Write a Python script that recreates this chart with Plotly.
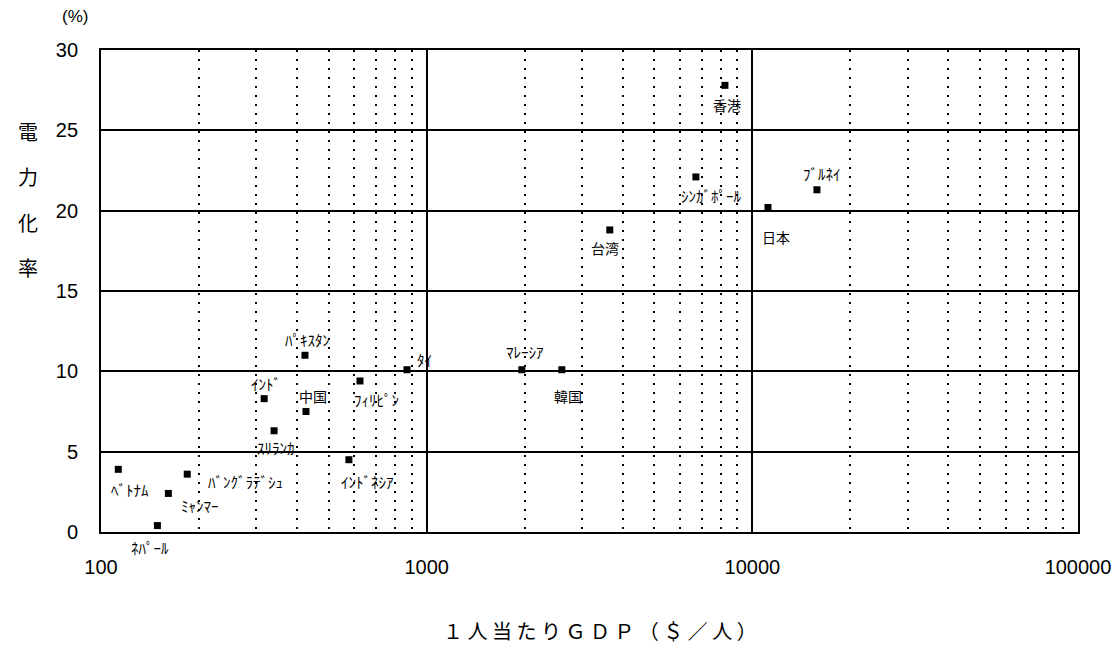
import math
import plotly.graph_objects as go

# Per-capita GDP ($/person) vs electrification rate (%)
countries = ["ベトナム", "ネパール", "ミャンマー", "バングラデシュ", "インド", "スリランカ",
             "中国", "パキスタン", "フィリピン", "タイ", "インドネシア", "マレーシア",
             "韓国", "台湾", "シンガポール", "香港", "日本", "ブルネイ"]
gdp_per_capita = [113, 149, 161, 184, 317, 340, 426, 423, 624, 870, 577, 1960,
                  2600, 3650, 6710, 8240, 11170, 15790]
electrification = [3.9, 0.4, 2.4, 3.6, 8.3, 6.3, 7.5, 11.0, 9.4, 10.1, 4.5, 10.1,
                   10.1, 18.8, 22.1, 27.8, 20.2, 21.3]

# Labels as printed (half-width katakana), with pixel offsets from each marker
label_text = ["ﾍﾞﾄﾅﾑ", "ﾈﾊﾟｰﾙ", "ﾐｬﾝﾏｰ", "ﾊﾞﾝｸﾞﾗﾃﾞｼｭ", "ｲﾝﾄﾞ", "ｽﾘﾗﾝｶ",
              "中国", "ﾊﾟｷｽﾀﾝ", "ﾌｨﾘﾋﾟﾝ", "ﾀｲ", "ｲﾝﾄﾞﾈｼｱ", "ﾏﾚｰｼｱ",
              "韓国", "台湾", "ｼﾝｶﾞﾎﾟｰﾙ", "香港", "日本", "ﾌﾞﾙﾈｲ"]
label_dx = [12, -7, 32, 58, 2, 2, 7, 3, 17, 18, 19, 3, 6, -5, 16, 2, 8, 5]
label_dy = [20, 22, 12, 7, -15, 17, -16, -16, 19, -10, 22, -18, 26, 18, 19, 20, 30, -16]

y_ticks = [0, 5, 10, 15, 20, 25, 30]
x_ticks = [100, 1000, 10000, 100000]
x_minor = [m * 10 ** d for d in range(2, 5) for m in range(2, 10)]

y_title_chars = ["電", "力", "化", "率"]

JP = "Noto Sans CJK JP"
NUM = "Liberation Sans, Arial, sans-serif"

fig = go.Figure()
fig.add_trace(go.Scatter(
    x=gdp_per_capita, y=electrification, mode="markers",
    marker=dict(symbol="square", size=7, color="black"),
    hoverinfo="skip", showlegend=False,
))

annotations = []
for gx, ey, txt, dx, dy in zip(gdp_per_capita, electrification, label_text, label_dx, label_dy):
    is_kanji = txt in ("中国", "韓国", "台湾", "香港", "日本")
    annotations.append(dict(
        # annotation x on a log axis is given in log10 units
        x=math.log10(gx), y=ey, xref="x", yref="y", text=txt, showarrow=False,
        xshift=dx, yshift=-dy,
        font=dict(family=JP, size=14 if is_kanji else 15, color="black"),
    ))

# Axis titles
annotations.append(dict(
    x=0.511, y=-0.205, xref="paper", yref="paper", xanchor="center", yanchor="middle",
    text="１ 人 当 た り Ｇ Ｄ Ｐ （ ＄ ／ 人 ）", showarrow=False,
    font=dict(family=JP, size=20, color="black"),
))
for i, ch in enumerate(y_title_chars):
    annotations.append(dict(
        x=28, y=131 + 45.5 * i, xref="paper", yref="paper", text=ch, showarrow=False,
        font=dict(family=JP, size=20, color="black"),
    ))
annotations.append(dict(
    x=-0.027, y=1.045, xref="paper", yref="paper", xanchor="center", yanchor="bottom",
    text="(%)", showarrow=False, font=dict(family=NUM, size=17, color="black"),
))

# convert the stacked y-title pixel positions to paper coordinates
plot_l, plot_t, plot_w, plot_h = 101, 50, 1118 - 101 - 40, 657 - 50 - 125
for a in annotations[-5:-1]:
    a["x"] = (a["x"] - plot_l) / plot_w
    a["y"] = 1 - (a["y"] - plot_t) / plot_h
    a["xanchor"] = "center"
    a["yanchor"] = "middle"

fig.update_layout(
    width=1118, height=657,
    margin=dict(l=101, r=40, t=50, b=125),
    paper_bgcolor="white", plot_bgcolor="white",
    annotations=annotations,
    xaxis=dict(
        type="log", range=[2, 5], automargin=False,
        tickvals=x_ticks, ticktext=[str(v) for v in x_ticks],
        tickfont=dict(family=NUM, size=20, color="black"),
        ticks="", ticklabelstandoff=16,
        showgrid=True, gridcolor="black", gridwidth=1.8,
        minor=dict(tickvals=x_minor, showgrid=True, gridcolor="black",
                   gridwidth=2, griddash="2px,7px", ticks=""),
        showline=True, linecolor="black", linewidth=1.8, mirror=True,
        zeroline=False,
    ),
    yaxis=dict(
        range=[0, 30], automargin=False, tickvals=y_ticks,
        tickfont=dict(family=NUM, size=20, color="black"),
        ticks="", ticklabelstandoff=17,
        showgrid=True, gridcolor="black", gridwidth=1.8,
        showline=True, linecolor="black", linewidth=1.8, mirror=True,
        zeroline=False,
    ),
)

fig.write_html("out.html")
